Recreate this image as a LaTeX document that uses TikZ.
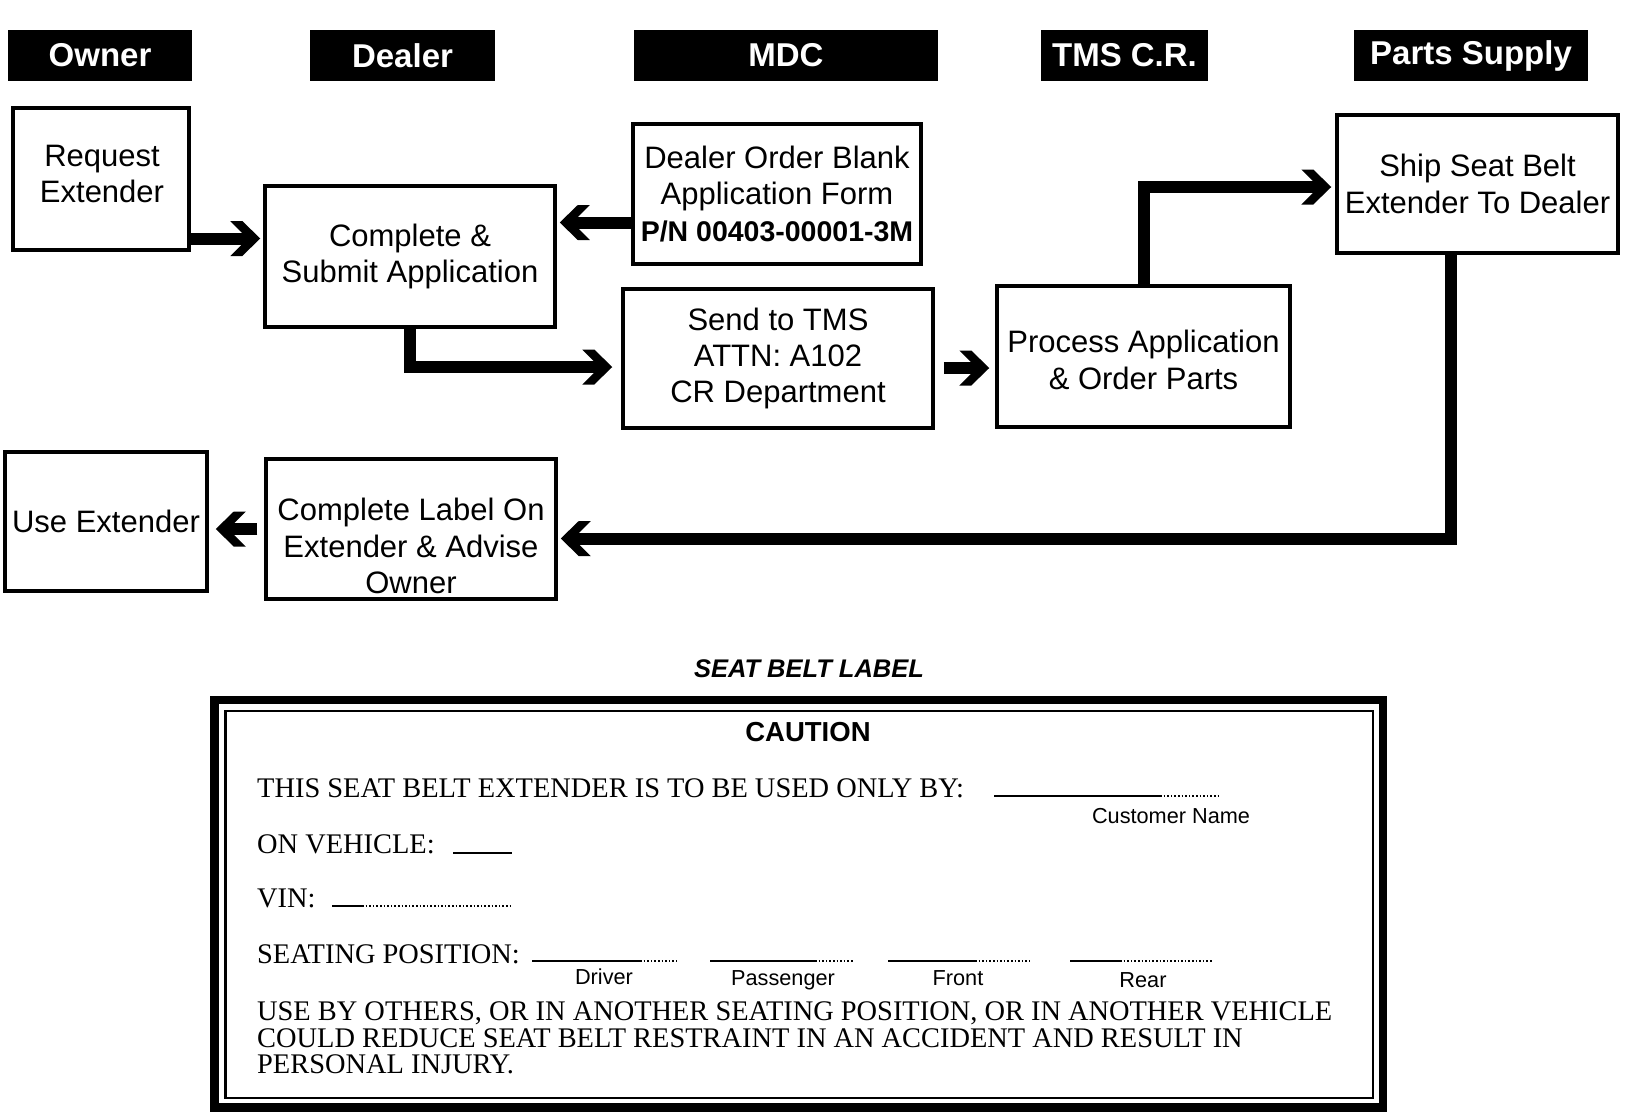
\documentclass[tikz,border=0pt]{standalone}
\usepackage{fontspec}
\setmainfont{Liberation Serif}
\newfontfamily\hv{Liberation Sans}
\usetikzlibrary{arrows.meta}
\pgfdeclarearrow{
  name = Chev,
  setup code = {
    \pgfarrowssettipend{0pt}
    \pgfarrowssetbackend{-30pt}
    \pgfarrowssetlineend{-12pt}
    \pgfarrowshullpoint{0pt}{0pt}
    \pgfarrowsupperhullpoint{-30pt}{17.5pt}
  },
  drawing code = {
    \pgfpathmoveto{\pgfqpoint{0pt}{0pt}}
    \pgfpathlineto{\pgfqpoint{-18pt}{17.5pt}}
    \pgfpathlineto{\pgfqpoint{-30pt}{17.5pt}}
    \pgfpathlineto{\pgfqpoint{-12.5pt}{0pt}}
    \pgfpathlineto{\pgfqpoint{-30pt}{-17.5pt}}
    \pgfpathlineto{\pgfqpoint{-18pt}{-17.5pt}}
    \pgfpathclose
    \pgfusepathqfill
  }
}
\begin{document}
\begin{tikzpicture}[x=1pt,y=-1pt,
  hdr/.style={fill=black,text=white,inner sep=0,minimum height=51,font=\hv\bfseries\fontsize{33}{38}\selectfont},
  box/.style={draw,line width=3.5,inner sep=0,align=center,font=\hv\fontsize{31}{36.4}\selectfont},
  btxt/.style={inner sep=0,align=center,font=\hv\fontsize{31}{36.4}\selectfont},
  arr/.style={line width=12,line join=miter,-{Chev}},
  lbl/.style={font=\hv\fontsize{21.7}{24}\selectfont,inner sep=0,anchor=base},
  ser/.style={font=\fontsize{28.4}{27}\selectfont,inner sep=0,anchor=base west},
  blank/.style={line width=1.6}
]
\useasboundingbox (0,0) rectangle (1632,1112);

% lane headers
\node[hdr,minimum width=184] (hOwner) at (100,55.5) {Owner};
\node[hdr,minimum width=185] (hDealer) at (402.5,55.5) {Dealer};
\node[hdr,minimum width=304] (hMDC) at (786,55.5) {MDC};
\node[hdr,minimum width=167] (hTMS) at (1124.5,55.5) {TMS C.R.};
\node[hdr,minimum width=234] (hParts) at (1471,55.5) {Parts Supply};

% process boxes
\node[box,minimum width=176,minimum height=142] (req) at (101,179) {};
\node[btxt] (reqtxt) at (102,174) {Request\\Extender};
\node[box,minimum width=290,minimum height=141] (csa) at (410,256.5) {Complete \&\\Submit Application};
\node[box,minimum width=288,minimum height=140] (dob) at (777,194)
  {Dealer Order Blank\\Application Form\\{\bfseries\fontsize{28.5}{36}\selectfont P/N 00403-00001-3M}};
\node[box,minimum width=310,minimum height=139] (send) at (778,358.5) {Send to TMS\\ATTN: A102\\CR Department};
\node[box,minimum width=293,minimum height=141] (proc) at (1143.5,356.5) {};
\node[btxt] (proctxt) at (1143.5,360) {Process Application\\\& Order Parts};
\node[box,minimum width=281,minimum height=138] (ship) at (1477.5,184) {Ship Seat Belt\\Extender To Dealer};
\node[box,minimum width=202,minimum height=139] (use) at (106,521.5) {Use Extender};
\node[box,minimum width=290,minimum height=140] (lab) at (411,529) {};
\node[btxt] (labtxt) at (411,546) {Complete Label On\\Extender \& Advise\\Owner};

% connectors
\draw[arr] (req.east |- 0,238.5) -- ([xshift=-3]csa.west |- 0,238.5);
\draw[arr] (dob.west |- 0,222.5) -- ([xshift=3]csa.east |- 0,222.5);
\draw[arr] (csa.south) |- ([xshift=-9]send.west |- 0,367);
\draw[arr] ([xshift=9]send.east |- 0,368) -- ([xshift=-6]proc.west |- 0,368);
\draw[arr] (proc.north) |- ([xshift=-4]ship.west |- 0,187);
\draw[arr] (ship.south -| 1451,0) |- ([xshift=3]lab.east |- 0,538.5);
\draw[arr] ([xshift=-7]lab.west |- 0,529) -- ([xshift=7]use.east |- 0,529);

% seat belt label
\node[font=\hv\bfseries\itshape\fontsize{25.5}{28}\selectfont,inner sep=0] (sbl) at (809,669) {SEAT BELT LABEL};
\node[draw,line width=8.5,minimum width=1168.5,minimum height=407.5,inner sep=0] (frame) at (798.75,903.75) {};
\node[draw,line width=2.5,minimum width=1147.5,minimum height=387,inner sep=0] (inner) at (799.25,904.5) {};
\node[font=\hv\bfseries\fontsize{27.5}{30}\selectfont,inner sep=0] (caut) at (808,732) {CAUTION};

\node[ser] (l1) at (257,797) {THIS SEAT BELT EXTENDER IS TO BE USED ONLY BY:};
\node[ser] (l2) at (257,853) {ON VEHICLE:};
\node[ser] (l3) at (257,907) {VIN:};
\node[ser] (l4) at (257,963) {SEATING POSITION:};
\node[ser] (p1) at (257,1020) {USE BY OTHERS, OR IN ANOTHER SEATING POSITION, OR IN ANOTHER VEHICLE};
\node[ser] (p2) at (257,1047) {COULD REDUCE SEAT BELT RESTRAINT IN AN ACCIDENT AND RESULT IN};
\node[ser] (p3) at (257,1073) {PERSONAL INJURY.};

\node[lbl] (cname) at (1171,823) {Customer Name};
\node[lbl] (drv) at (604,984) {Driver};
\node[lbl] (pas) at (783,985) {Passenger};
\node[lbl] (frt) at (958,985) {Front};
\node[lbl] (rear) at (1143,987) {Rear};

% blanks
\draw[blank] (994,796) -- (1160,796);
\draw[blank,dotted] (1160,796) -- (1218,796);
\draw[blank] (453,853) -- (512,853);
\draw[blank] (332,906) -- (362,906);
\draw[blank,dotted] (362,906) -- (513,906);
\draw[blank] (532,961) -- (640,961);
\draw[blank,dotted] (640,961) -- (677,961);
\draw[blank] (710,961) -- (815,961);
\draw[blank,dotted] (815,961) -- (853,961);
\draw[blank] (888,961) -- (975,961);
\draw[blank,dotted] (975,961) -- (1030,961);
\draw[blank] (1070,961) -- (1120,961);
\draw[blank,dotted] (1120,961) -- (1212,961);
\end{tikzpicture}
\end{document}
